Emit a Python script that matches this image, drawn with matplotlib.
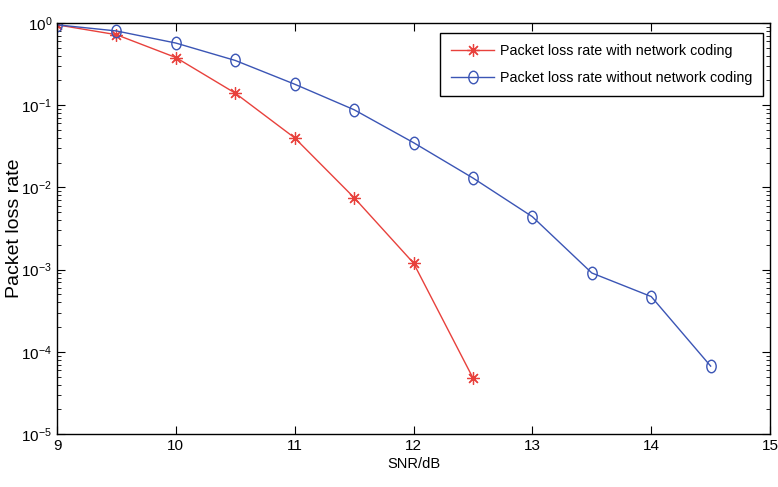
import numpy as np
import matplotlib.pyplot as plt
from matplotlib.path import Path
from matplotlib.ticker import LogLocator, NullFormatter

plt.rcParams['font.family'] = ['Liberation Sans', 'DejaVu Sans']
plt.rcParams['axes.unicode_minus'] = False
plt.rcParams['mathtext.default'] = 'regular'

# data
snr = [9, 9.5, 10, 10.5, 11, 11.5, 12, 12.5, 13, 13.5, 14, 14.5]
plr_nc = [0.95, 0.72, 0.38, 0.14, 0.040, 0.0075, 0.0012, 4.8e-5]
plr_no_nc = [0.95, 0.80, 0.57, 0.35, 0.18, 0.088, 0.035, 0.013, 0.0044, 9.1e-4, 4.7e-4, 6.7e-5]
labels = ['Packet loss rate with network coding', 'Packet loss rate without network coding']

# slightly squashed circle, like the printed matlab figure
circ = Path.unit_circle()
ellipse = Path(circ.vertices * np.array([0.75, 1.0]), circ.codes)

fig = plt.figure(figsize=(7.78, 4.87), dpi=100)
ax = fig.add_axes([0.0733, 0.1088, 0.9165, 0.844])

ax.semilogy(snr[:len(plr_nc)], plr_nc, '-', color='#e8413c', marker=(8, 2, 0), markersize=9,
            markeredgewidth=0.9, linewidth=1.0, label=labels[0])
ax.semilogy(snr, plr_no_nc, '-', color='#3b55b5', marker=ellipse, markersize=9,
            markerfacecolor='none', markeredgewidth=1.0, linewidth=1.0, label=labels[1])

ax.set_xlim(9, 15)
ax.set_ylim(1e-5, 1)
ax.set_xticks(np.arange(9, 16, 1))
ax.yaxis.set_major_locator(LogLocator(base=10, numticks=10))
ax.yaxis.set_minor_locator(LogLocator(base=10, subs=np.arange(2, 10), numticks=10))
ax.yaxis.set_minor_formatter(NullFormatter())

ax.tick_params(which='both', direction='in', top=True, right=True, labelsize=11)
ax.tick_params(which='major', length=6, width=0.8)
ax.tick_params(which='minor', length=3, width=0.6)
for s in ax.spines.values():
    s.set_linewidth(1.0)

ax.set_xlabel('SNR/dB', fontsize=10.5, labelpad=3)
ax.set_ylabel('Packet loss rate', fontsize=14)
ax.yaxis.set_label_coords(-0.048, 0.5)

leg = ax.legend(loc='upper right', bbox_to_anchor=(0.990, 0.9757), borderaxespad=0,
                fontsize=10.3, fancybox=False, edgecolor='black', framealpha=1,
                handlelength=3.0, handletextpad=0.4, borderpad=0.75, labelspacing=0.95)
leg.get_frame().set_linewidth(1.0)

fig.savefig('out.png', dpi=100)
